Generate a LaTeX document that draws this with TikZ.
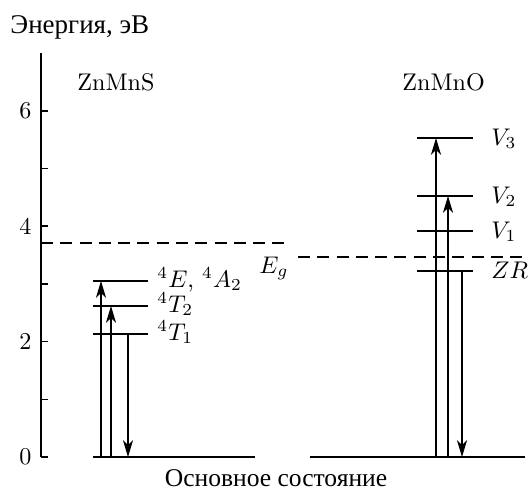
\documentclass[tikz,border=0pt]{standalone}
\usepackage{fontspec}
\newfontfamily\cyrfont{Liberation Serif}
\usetikzlibrary{arrows.meta}
\begin{document}
\begin{tikzpicture}[x=0.415pt,y=-0.415pt,
  thinline/.style={line width=0.45pt},
  axisline/.style={line width=0.6pt},
  lvl/.style={line width=1.2pt},
  egline/.style={line width=0.5pt,dash pattern=on 5pt off 3pt},
  trans/.style={line width=0.45pt,-{Stealth[length=7pt,width=4.2pt,inset=2pt]}},
  lab/.style={anchor=base west,inner sep=0pt}]
\useasboundingbox (0,0) rectangle (529,488);
% axis
\draw[axisline] (41,457) -- (41,53);
\foreach \e in {0,...,6} \draw[axisline] (41,{457-57.7*\e}) -- (48,{457-57.7*\e});
\foreach \e in {0,2,4,6} \node[anchor=east,inner sep=0pt] (t\e) at (32,{457-57.7*\e}) {\e};
\node[lab] (ylab) at (10,33) {\cyrfont\fontsize{11.2pt}{13pt}\selectfont Энергия, эВ};
% headers
\node[lab] (hS) at (77,90) {ZnMnS};
\node[lab] (hO) at (402,90) {ZnMnO};
% ground state
\coordinate (gL1) at (93,457); \coordinate (gL2) at (255,457);
\coordinate (gR1) at (310,457); \coordinate (gR2) at (525,457);
\draw[thinline] (gL1) -- (gL2);
\draw[thinline] (gR1) -- (gR2);
\node[anchor=base,inner sep=0pt] (gs) at (276,486) {\cyrfont\fontsize{10.6pt}{12pt}\selectfont Основное состояние};
% band gaps
\coordinate (egL1) at (41,243); \coordinate (egL2) at (290,243);
\coordinate (egR1) at (298,257); \coordinate (egR2) at (529,257);
\draw[egline] (egL1) -- (egL2);
\draw[egline] (egR1) -- (egR2);
\node[lab] (eg) at (259,273) {$E_g$};
% ZnMnS levels
\coordinate (lE1) at (93,281); \coordinate (lE2) at (148,281);
\coordinate (lT21) at (93,306); \coordinate (lT22) at (148,306);
\coordinate (lT11) at (93,334); \coordinate (lT12) at (148,334);
\draw[lvl] (lE1) -- (lE2);
\draw[lvl] (lT21) -- (lT22);
\draw[lvl] (lT11) -- (lT12);
\node[lab] (labE) at (157,287) {$^4E$, $^4A_2$};
\node[lab] (labT2) at (157,312) {$^4T_2$};
\node[lab] (labT1) at (157,340) {$^4T_1$};
\coordinate (aS1b) at (101,457); \coordinate (aS1t) at (101,281);
\coordinate (aS2b) at (111,457); \coordinate (aS2t) at (111,306);
\coordinate (aS3t) at (128,334); \coordinate (aS3b) at (128,457);
\draw[trans] (aS1b) -- (aS1t);
\draw[trans] (aS2b) -- (aS2t);
\draw[trans] (aS3t) -- (aS3b);
% ZnMnO levels
\coordinate (lV31) at (417,138); \coordinate (lV32) at (473,138);
\coordinate (lV21) at (417,196); \coordinate (lV22) at (473,196);
\coordinate (lV11) at (417,231); \coordinate (lV12) at (473,231);
\coordinate (lZ1) at (417,271); \coordinate (lZ2) at (473,271);
\draw[lvl] (lV31) -- (lV32);
\draw[lvl] (lV21) -- (lV22);
\draw[lvl] (lV11) -- (lV12);
\draw[lvl] (lZ1) -- (lZ2);
\node[lab] (labV3) at (491,145) {$V_3$};
\node[lab] (labV2) at (491,203) {$V_2$};
\node[lab] (labV1) at (491,238) {$V_1$};
\node[lab] (labZ) at (491,278) {$ZR$};
\coordinate (aO1b) at (436,457); \coordinate (aO1t) at (436,138);
\coordinate (aO2b) at (448,457); \coordinate (aO2t) at (448,196);
\coordinate (aO3t) at (462,271); \coordinate (aO3b) at (462,457);
\draw[trans] (aO1b) -- (aO1t);
\draw[trans] (aO2b) -- (aO2t);
\draw[trans] (aO3t) -- (aO3b);
\end{tikzpicture}
\end{document}
